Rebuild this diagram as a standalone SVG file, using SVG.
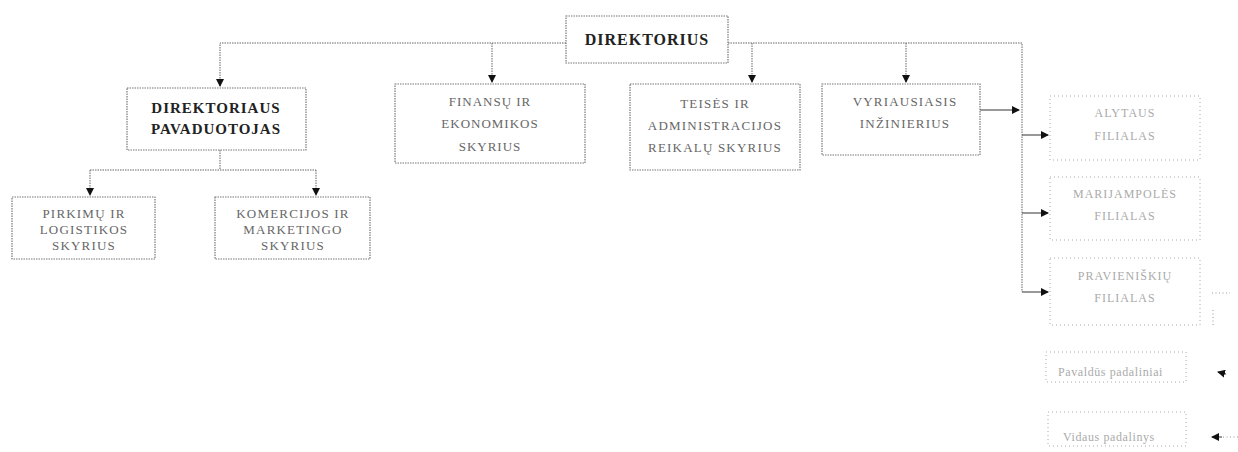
<svg xmlns="http://www.w3.org/2000/svg" width="1238" height="452" viewBox="0 0 1238 452">
<style>
.box{fill:#fff;stroke:#777;stroke-width:1.2;stroke-dasharray:1.5 1}
.fbox{fill:#fff;stroke:#aaa;stroke-width:1;stroke-dasharray:1 3}
.t{font-family:"Liberation Serif",serif;font-size:13px;fill:#666;text-anchor:middle;letter-spacing:1.2px}
.tb{font-family:"Liberation Serif",serif;font-size:15px;font-weight:bold;fill:#222;text-anchor:middle;letter-spacing:1px}
.tf{font-family:"Liberation Serif",serif;font-size:12px;fill:#aaa;text-anchor:middle;letter-spacing:1px}
.tl{font-family:"Liberation Serif",serif;font-size:12px;fill:#aaa;text-anchor:start;letter-spacing:0.6px}
.ln{fill:none;stroke:#666;stroke-width:1;stroke-dasharray:1.5 1}
.lf{fill:none;stroke:#999;stroke-width:1;stroke-dasharray:1 2.5}
.ls{fill:none;stroke:#333;stroke-width:1}
</style>
<defs>
<marker id="ah" markerWidth="8" markerHeight="8" refX="7" refY="4" orient="auto" markerUnits="userSpaceOnUse">
<path d="M0,0 L8,4 L0,8 Z" fill="#111"/>
</marker>
</defs>
<g id="connectors">
<path class="ln" d="M566,43 H220 V86" marker-end="url(#ah)"/>
<path class="ln" d="M492,43 V82" marker-end="url(#ah)"/>
<path class="ln" d="M728,43 H1022 V292"/>
<path class="ln" d="M752,43 V82" marker-end="url(#ah)"/>
<path class="ln" d="M906,43 V82" marker-end="url(#ah)"/>
<path class="ls" d="M980,110 H1019" marker-end="url(#ah)"/>
<path class="ls" d="M1022,135 H1048" marker-end="url(#ah)"/>
<path class="ls" d="M1022,213 H1048" marker-end="url(#ah)"/>
<path class="ls" d="M1022,292 H1048" marker-end="url(#ah)"/>
<path class="ln" d="M220,150 V170"/>
<path class="ln" d="M90,170 H316"/>
<path class="ln" d="M90,170 V195" marker-end="url(#ah)"/>
<path class="ln" d="M316,170 V195" marker-end="url(#ah)"/>
<path class="lf" d="M1212,293 H1230 M1213,310 V325"/>
<path class="ls" d="M1226,374 L1218,372" marker-end="url(#ah)"/>
<path class="lf" d="M1238,437 H1222"/>
<path class="ls" d="M1222,437 H1212" marker-end="url(#ah)"/>
</g>
<g id="direktorius">
<rect class="box" x="566" y="16" width="162" height="47"/>
<text class="tb" x="647" y="45" style="font-size:16px">DIREKTORIUS</text>
</g>
<g id="pavaduotojas">
<rect class="box" x="127" y="88" width="179" height="62"/>
<text class="tb" x="216" y="113">DIREKTORIAUS</text>
<text class="tb" x="216" y="134">PAVADUOTOJAS</text>
</g>
<g id="finansu">
<rect class="box" x="395" y="84" width="190" height="79"/>
<text class="t" x="490" y="106" style="letter-spacing:1px">FINANSŲ IR</text>
<text class="t" x="490" y="128" style="letter-spacing:1px">EKONOMIKOS</text>
<text class="t" x="490" y="151" style="letter-spacing:1px">SKYRIUS</text>
</g>
<g id="teises">
<rect class="box" x="630" y="84" width="170" height="86"/>
<text class="t" x="715" y="108">TEISĖS IR</text>
<text class="t" x="715" y="130">ADMINISTRACIJOS</text>
<text class="t" x="715" y="152">REIKALŲ SKYRIUS</text>
</g>
<g id="vyriausiasis">
<rect class="box" x="822" y="84" width="158" height="71"/>
<text class="t" x="905" y="106">VYRIAUSIASIS</text>
<text class="t" x="905" y="128">INŽINIERIUS</text>
</g>
<g id="pirkimu">
<rect class="box" x="12" y="197" width="143" height="62"/>
<text class="t" x="84" y="218">PIRKIMŲ IR</text>
<text class="t" x="84" y="234">LOGISTIKOS</text>
<text class="t" x="84" y="250">SKYRIUS</text>
</g>
<g id="komercijos">
<rect class="box" x="215" y="197" width="155" height="62"/>
<text class="t" x="293" y="218">KOMERCIJOS IR</text>
<text class="t" x="293" y="234">MARKETINGO</text>
<text class="t" x="293" y="250">SKYRIUS</text>
</g>
<g id="alytaus">
<rect class="fbox" x="1050" y="96" width="150" height="64"/>
<text class="tf" x="1125" y="117">ALYTAUS</text>
<text class="tf" x="1125" y="140">FILIALAS</text>
</g>
<g id="marijampoles">
<rect class="fbox" x="1050" y="177" width="150" height="63"/>
<text class="tf" x="1125" y="198">MARIJAMPOLĖS</text>
<text class="tf" x="1125" y="220">FILIALAS</text>
</g>
<g id="pravieniskiu">
<rect class="fbox" x="1050" y="258" width="150" height="67"/>
<text class="tf" x="1125" y="280">PRAVIENIŠKIŲ</text>
<text class="tf" x="1125" y="302">FILIALAS</text>
</g>
<g id="legend1">
<rect class="fbox" x="1046" y="352" width="140" height="30"/>
<text class="tl" x="1058" y="376">Pavaldūs padaliniai</text>
</g>
<g id="legend2">
<rect class="fbox" x="1048" y="412" width="138" height="34"/>
<text class="tl" x="1063" y="441">Vidaus padalinys</text>
</g>
</svg>
